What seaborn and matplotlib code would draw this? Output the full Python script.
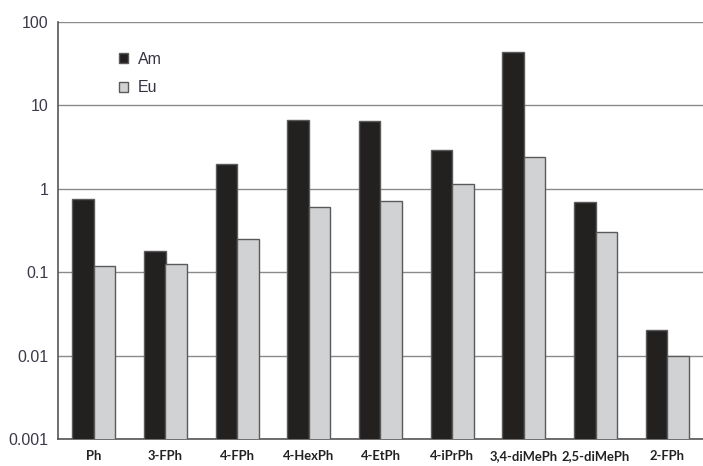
import matplotlib
matplotlib.use("Agg")
import matplotlib.pyplot as plt
import seaborn as sns
import pandas as pd
from matplotlib.patches import Patch

categories = ["Ph", "3-FPh", "4-FPh", "4-HexPh", "4-EtPh", "4-iPrPh",
              "3,4-diMePh", "2,5-diMePh", "2-FPh"]
am_values = [0.76, 0.18, 1.98, 6.7, 6.5, 2.9, 44.0, 0.69, 0.0204]
eu_values = [0.119, 0.127, 0.25, 0.60, 0.72, 1.14, 2.4, 0.30, 0.0098]
series = ["Am", "Eu"]
y_ticks = [0.001, 0.01, 0.1, 1, 10, 100]
y_ticklabels = ["0.001", "0.01", "0.1", "1", "10", "100"]

df = pd.DataFrame({
    "compound": categories * 2,
    "value": am_values + eu_values,
    "ion": [series[0]] * len(categories) + [series[1]] * len(categories),
})

sns.set_style("white")
plt.rcParams["font.family"] = ["Liberation Sans", "DejaVu Sans"]

colors = {"Am": "#231f20", "Eu": "#d1d2d4"}

fig = plt.figure(figsize=(7.03, 4.66), dpi=100)
ax = fig.add_axes([58 / 703, 1 - 439 / 466, 1 - 58 / 703, (439 - 22) / 466])

sns.barplot(data=df, x="compound", y="value", hue="ion", order=categories,
            hue_order=series, palette=colors, width=0.6, dodge=True,
            edgecolor="#5a5a5a", linewidth=1.0, legend=False, ax=ax,
            zorder=3)
ax.set_yscale("log")
ax.set_ylim(0.001, 100)
ax.set_xlim(-0.5, len(categories) - 0.5)

ax.set_yticks(y_ticks)
ax.set_yticklabels(y_ticklabels)
ax.yaxis.set_minor_locator(matplotlib.ticker.NullLocator())
ax.tick_params(axis="y", labelsize=11.5, labelcolor="#3a3a4a", length=5,
               width=1, color="#555555", direction="out", pad=2)
ax.grid(axis="y", color="#8a8a8a", linewidth=1.0, zorder=0)
ax.set_axisbelow(True)

# group labels centred, separator ticks between groups
ax.set_xticks(range(len(categories)))
ax.set_xticklabels(categories, fontfamily="Lato", fontweight="bold",
                   fontsize=9.4, color="#222222")
ax.tick_params(axis="x", which="major", length=0, pad=8)
ax.set_xticks([i + 0.5 for i in range(len(categories) - 1)], minor=True)
ax.tick_params(axis="x", which="minor", length=6, width=1, color="#555555",
               direction="out")

ax.set_xlabel("")
ax.set_ylabel("")
for side in ["top", "right"]:
    ax.spines[side].set_visible(False)
for side in ["left", "bottom"]:
    ax.spines[side].set_color("#555555")
    ax.spines[side].set_linewidth(1.2)

handles = [Patch(facecolor=colors[s], edgecolor="#5a5a5a", linewidth=1.0)
           for s in series]
ax.legend(handles, series, loc="upper left", bbox_to_anchor=(0.082, 0.948),
          frameon=False, prop={"family": "Liberation Sans", "size": 11.5},
          handlelength=0.6, handleheight=0.6,
          handletextpad=0.6, labelspacing=0.85, borderpad=0,
          labelcolor="#333344")

fig.savefig("out.png", dpi=100)
